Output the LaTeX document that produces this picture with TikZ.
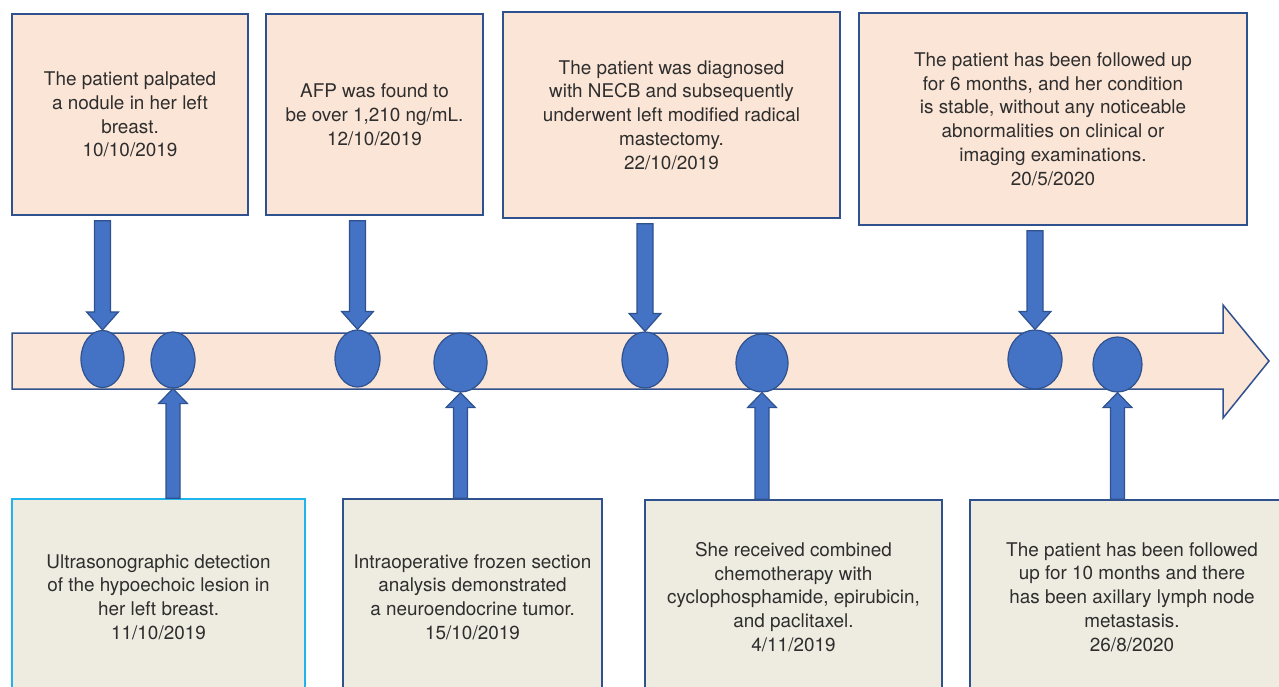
\documentclass[tikz,border=0pt]{standalone}
\usepackage{fontspec}
\setmainfont{TeX Gyre Heros}
\usepackage{tikz}
\usetikzlibrary{calc, shapes.geometric}
\usepackage{xcolor}

\definecolor{peach}{HTML}{FBE5D6}
\definecolor{khaki}{HTML}{EEEBE0}
\definecolor{boxblue}{HTML}{2F528F}
\definecolor{dotblue}{HTML}{4472C4}
\definecolor{skyline}{HTML}{1FB4EC}
\definecolor{txtgray}{HTML}{2E2E2E}

% block arrow from the lower edge of a box down to a dot
\newcommand{\blockdown}[2]{%
  \draw[blockarrow] let \p1=(#2.north), \p2=(#2 |- #1.south) in
    (\x1-8pt,\y2-5pt) -- (\x1+8pt,\y2-5pt) -- (\x1+8pt,\y1+18pt) -- (\x1+16pt,\y1+18pt)
    -- (\x1,\y1) -- (\x1-16pt,\y1+18pt) -- (\x1-8pt,\y1+18pt) -- cycle;}
% block arrow from the upper edge of a box up to a dot
\newcommand{\blockup}[2]{%
  \draw[blockarrow] let \p1=(#2.south), \p2=(#2 |- #1.north) in
    (\x1-7pt,\y2) -- (\x1+7pt,\y2) -- (\x1+7pt,\y1-15pt) -- (\x1+14.5pt,\y1-15pt)
    -- (\x1,\y1) -- (\x1-14.5pt,\y1-15pt) -- (\x1-7pt,\y1-15pt) -- cycle;}

\begin{document}
\begin{tikzpicture}[x=1pt, y=-1pt,
    every node/.style={font=\fontsize{18.9}{23.8}\selectfont, text=txtgray, align=center, inner sep=0pt},
    topbox/.style={draw=boxblue, fill=peach, line width=1.5pt},
    lowbox/.style={draw=boxblue, fill=khaki, line width=1.5pt},
    dot/.style={ellipse, draw=boxblue, fill=dotblue, line width=1.2pt},
    blockarrow/.style={draw=boxblue, fill=dotblue, line width=1.2pt, line join=miter}]
    \useasboundingbox (0,0) rectangle (1279,687);
    \clip (0,0) rectangle (1279,687);

    % Timeline
    \fill[peach, draw=boxblue, line width=1.5pt] (12,333) -- (1223,333) -- (1223,305) -- (1269,361)
      -- (1223,418) -- (1223,389) -- (12,389) -- cycle;

    % Events above the timeline
    \node[topbox, minimum width=236pt, minimum height=201pt] (palpate) at (130,114.5)
      {The patient palpated\\a nodule in her left\\breast.\\10/10/2019};
    \node[topbox, minimum width=217pt, minimum height=201pt] (afp) at (374.5,114.5)
      {AFP was found to\\be over 1,210 ng/mL.\\12/10/2019};
    \node[topbox, minimum width=337pt, minimum height=206pt] (surgery) at (671.5,115)
      {The patient was diagnosed\\with NECB and subsequently\\underwent left modified radical\\mastectomy.\\22/10/2019};
    \node[topbox, minimum width=388pt, minimum height=212pt] (followsix) at (1053,119)
      {The patient has been followed up\\for 6 months, and her condition\\is stable, without any noticeable\\abnormalities on clinical or\\imaging examinations.\\20/5/2020};

    % Events below the timeline
    \node[lowbox, draw=skyline, minimum width=293pt, minimum height=196pt] (ultrasound) at (158.5,597)
      {Ultrasonographic detection\\of the hypoechoic lesion in\\her left breast.\\11/10/2019};
    \node[lowbox, minimum width=259pt, minimum height=196pt] (frozen) at (472.5,597)
      {Intraoperative frozen section\\analysis demonstrated\\a neuroendocrine tumor.\\15/10/2019};
    \node[lowbox, minimum width=297pt, minimum height=194pt] (chemo) at (793.5,597)
      {She received combined\\chemotherapy with\\cyclophosphamide, epirubicin,\\and paclitaxel.\\4/11/2019};
    \node[lowbox, minimum width=324pt, minimum height=194pt] (followten) at (1132,597)
      {The patient has been followed\\up for 10 months and there\\has been axillary lymph node\\metastasis.\\26/8/2020};

    % Dots on the timeline
    \node[dot, minimum width=43pt, minimum height=57pt] (dotpalp) at (102.5,359) {};
    \node[dot, minimum width=44pt, minimum height=56pt] (dotus) at (173,360) {};
    \node[dot, minimum width=45pt, minimum height=57pt] (dotafp) at (357.5,358.5) {};
    \node[dot, minimum width=53pt, minimum height=59pt] (dotfrozen) at (460.5,362.5) {};
    \node[dot, minimum width=46pt, minimum height=56pt] (dotsurg) at (645,360) {};
    \node[dot, minimum width=52pt, minimum height=58pt] (dotchemo) at (762,363) {};
    \node[dot, minimum width=54pt, minimum height=59pt] (dotsix) at (1035,359.5) {};
    \node[dot, minimum width=49pt, minimum height=55pt] (dotten) at (1117.5,364.5) {};

    % Arrows
    \blockdown{palpate}{dotpalp}
    \blockdown{afp}{dotafp}
    \blockdown{surgery}{dotsurg}
    \blockdown{followsix}{dotsix}
    \blockup{ultrasound}{dotus}
    \blockup{frozen}{dotfrozen}
    \blockup{chemo}{dotchemo}
    \blockup{followten}{dotten}
\end{tikzpicture}
\end{document}
